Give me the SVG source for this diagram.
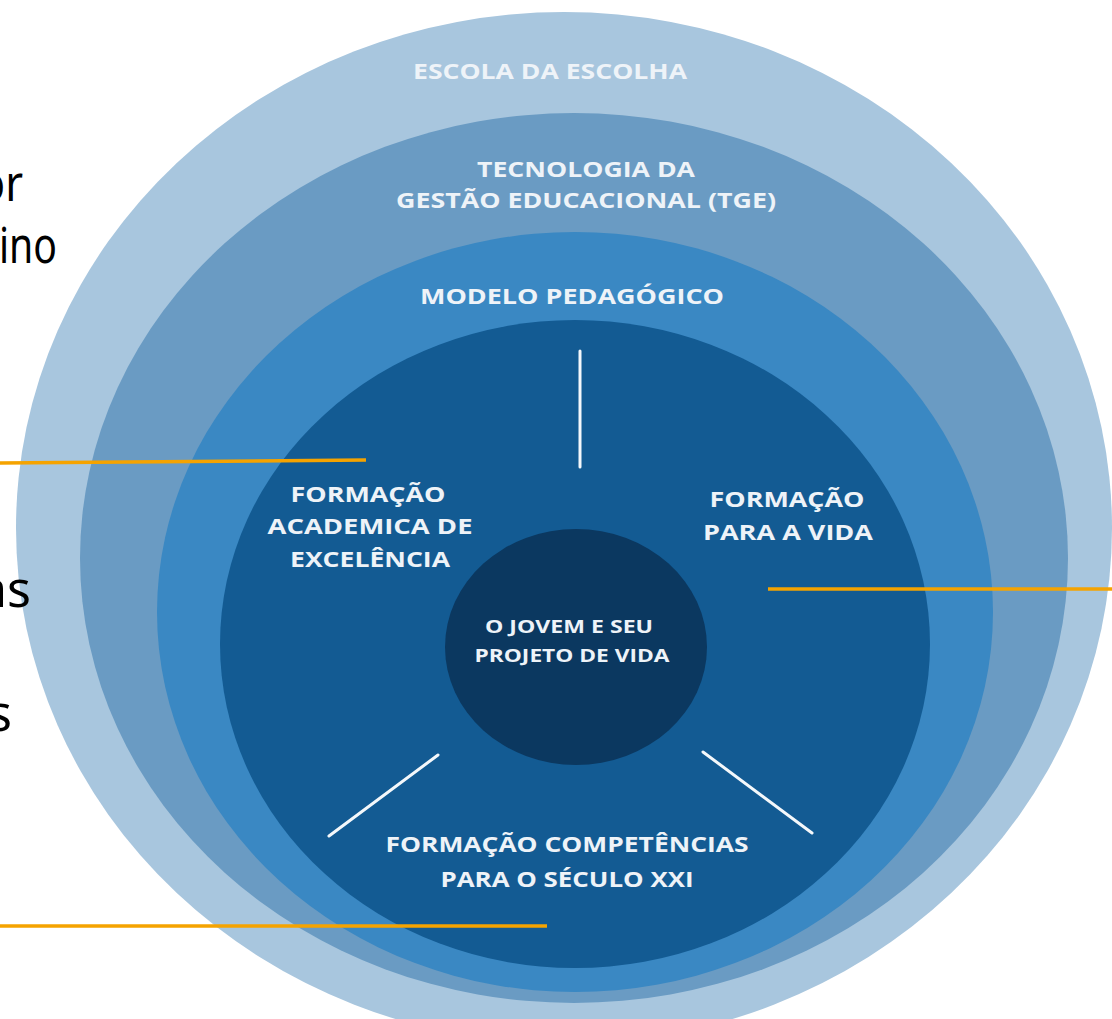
<svg xmlns="http://www.w3.org/2000/svg" width="1112" height="1019" viewBox="0 0 1112 1019">
<style>
.lbl{font-family:"Open Sans","Liberation Sans",sans-serif;font-weight:700;fill:#eef3f8;text-anchor:middle}
.big{font-size:22px}
.small{font-size:17px}
.side{font-family:"Noto Sans","Open Sans",sans-serif;font-size:50px;fill:#000;text-anchor:end}
.white{stroke:#f4f8fb;stroke-width:3;stroke-linecap:round}
.orange{stroke:#f5a300;stroke-width:3.5}
</style>
<rect width="1112" height="1019" fill="#ffffff"/>
<g id="escola-da-escolha">
<ellipse cx="564" cy="528" rx="548" ry="516" fill="#a8c6de"/>
<text class="lbl big" x="550" y="79" textLength="274" lengthAdjust="spacingAndGlyphs">ESCOLA DA ESCOLHA</text>
</g>
<g id="tge">
<ellipse cx="574" cy="558" rx="494" ry="445" fill="#6a9bc3"/>
<text class="lbl big" x="586" y="177" textLength="218" lengthAdjust="spacingAndGlyphs">TECNOLOGIA DA</text>
<text class="lbl big" x="586" y="208" textLength="380" lengthAdjust="spacingAndGlyphs">GESTÃO EDUCACIONAL (TGE)</text>
</g>
<g id="modelo-pedagogico">
<ellipse cx="575" cy="612" rx="418" ry="380" fill="#3a88c3"/>
<text class="lbl big" x="572" y="304" textLength="304" lengthAdjust="spacingAndGlyphs">MODELO PEDAGÓGICO</text>
</g>
<g id="formacoes">
<ellipse cx="575" cy="644" rx="355" ry="324" fill="#135b93"/>
</g>
<g id="formacao-academica">
<text class="lbl big" x="368" y="502" textLength="155" lengthAdjust="spacingAndGlyphs">FORMAÇÃO</text>
<text class="lbl big" x="370" y="534" textLength="205" lengthAdjust="spacingAndGlyphs">ACADEMICA DE</text>
<text class="lbl big" x="370" y="567" textLength="160" lengthAdjust="spacingAndGlyphs">EXCELÊNCIA</text>
</g>
<g id="formacao-vida">
<text class="lbl big" x="787" y="507" textLength="155" lengthAdjust="spacingAndGlyphs">FORMAÇÃO</text>
<text class="lbl big" x="788" y="540" textLength="170" lengthAdjust="spacingAndGlyphs">PARA A VIDA</text>
</g>
<g id="formacao-competencias">
<text class="lbl big" x="567" y="852" textLength="363" lengthAdjust="spacingAndGlyphs">FORMAÇÃO COMPETÊNCIAS</text>
<text class="lbl big" x="567" y="887" textLength="253" lengthAdjust="spacingAndGlyphs">PARA O SÉCULO XXI</text>
</g>
<g id="jovem">
<ellipse cx="576" cy="647" rx="131" ry="118" fill="#0b3860"/>
<text class="lbl small" x="569" y="633" textLength="168" lengthAdjust="spacingAndGlyphs">O JOVEM E SEU</text>
<text class="lbl small" x="572" y="662" textLength="195" lengthAdjust="spacingAndGlyphs">PROJETO DE VIDA</text>
</g>
<g id="connectors">
<line class="white" x1="580" y1="351" x2="580" y2="467"/>
<line class="white" x1="438" y1="755" x2="329" y2="836"/>
<line class="white" x1="703" y1="752" x2="812" y2="833"/>
<line class="orange" x1="0" y1="463" x2="366" y2="460"/>
<line class="orange" x1="768" y1="589" x2="1112" y2="589"/>
<line class="orange" x1="0" y1="926" x2="547" y2="926"/>
</g>
<g id="side-text">
<text class="side" x="23" y="201" textLength="44" lengthAdjust="spacingAndGlyphs">or</text>
<text class="side" x="57" y="263" textLength="58" lengthAdjust="spacingAndGlyphs">ino</text>
<text class="side" x="31" y="607" textLength="52" lengthAdjust="spacingAndGlyphs">as</text>
<text class="side" x="12" y="731" textLength="24" lengthAdjust="spacingAndGlyphs">s</text>
</g>
</svg>
